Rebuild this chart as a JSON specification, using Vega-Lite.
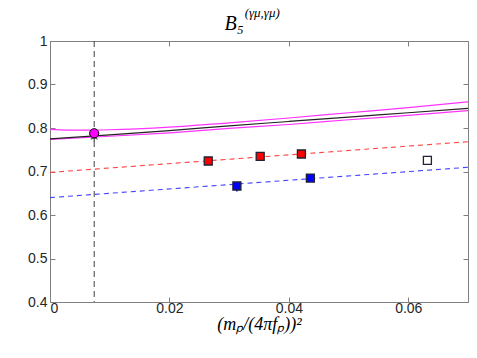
{
  "$schema": "https://vega.github.io/schema/vega-lite/v6.json",
  "width": 418,
  "height": 261,
  "autosize": "none",
  "padding": {"left": 50, "top": 41, "right": 9, "bottom": 56},
  "background": "white",
  "config": {
    "view": {"stroke": "#808080", "strokeWidth": 1},
    "axis": {"domain": false, "grid": false, "tickColor": "#808080", "tickSize": -5, "labelFont": "Liberation Sans", "labelFontSize": 14, "labelColor": "#262626", "titleFont": "Liberation Serif", "titleFontStyle": "italic", "titleFontWeight": "normal", "titleFontSize": 18, "titleColor": "#000000"}
  },
  "title": {
    "text": "\u200b\u2002(\u03b3\u03bc,\u03b3\u03bc)",
    "subtitle": "B\u2085\u2003\u2003\u2002\u200b",
    "font": "Liberation Serif",
    "fontStyle": "italic",
    "fontWeight": "normal",
    "fontSize": 13,
    "color": "#000000",
    "subtitleFont": "Liberation Serif",
    "subtitleFontStyle": "italic",
    "subtitleFontSize": 20,
    "subtitleColor": "#000000",
    "subtitlePadding": -6,
    "anchor": "middle",
    "offset": 0
  },
  "datasets": {
    "curves": [
      {"s": "upper", "x": 0, "y": 0.797},
      {"s": "upper", "x": 0.005, "y": 0.795},
      {"s": "upper", "x": 0.01, "y": 0.796},
      {"s": "upper", "x": 0.02, "y": 0.802},
      {"s": "upper", "x": 0.03, "y": 0.812},
      {"s": "upper", "x": 0.04, "y": 0.823},
      {"s": "upper", "x": 0.05, "y": 0.835},
      {"s": "upper", "x": 0.06, "y": 0.847},
      {"s": "upper", "x": 0.07, "y": 0.86},
      {"s": "lower", "x": 0, "y": 0.774},
      {"s": "lower", "x": 0.01, "y": 0.781},
      {"s": "lower", "x": 0.02, "y": 0.789},
      {"s": "lower", "x": 0.03, "y": 0.799},
      {"s": "lower", "x": 0.04, "y": 0.808},
      {"s": "lower", "x": 0.05, "y": 0.819},
      {"s": "lower", "x": 0.06, "y": 0.829},
      {"s": "lower", "x": 0.07, "y": 0.84},
      {"s": "black", "x": 0, "y": 0.775},
      {"s": "black", "x": 0.01, "y": 0.784},
      {"s": "black", "x": 0.02, "y": 0.794},
      {"s": "black", "x": 0.03, "y": 0.805},
      {"s": "black", "x": 0.04, "y": 0.815},
      {"s": "black", "x": 0.05, "y": 0.825},
      {"s": "black", "x": 0.06, "y": 0.835},
      {"s": "black", "x": 0.07, "y": 0.845},
      {"s": "red", "x": 0, "y": 0.698},
      {"s": "red", "x": 0.07, "y": 0.7685},
      {"s": "blue", "x": 0, "y": 0.64},
      {"s": "blue", "x": 0.07, "y": 0.7097}
    ],
    "pts": [
      {"s": "red", "x": 0.0265, "y": 0.7241, "lo": 0.7221, "hi": 0.7261},
      {"s": "red", "x": 0.0352, "y": 0.7349, "lo": 0.7329, "hi": 0.7369},
      {"s": "red", "x": 0.0421, "y": 0.7402, "lo": 0.7382, "hi": 0.7422},
      {"s": "blue", "x": 0.0313, "y": 0.6667, "lo": 0.654, "hi": 0.676},
      {"s": "blue", "x": 0.0436, "y": 0.685, "lo": 0.682, "hi": 0.688},
      {"s": "open", "x": 0.0632, "y": 0.7257, "lo": 0.7257, "hi": 0.7257},
      {"s": "phys", "x": 0.0074, "y": 0.7878, "lo": 0.7848, "hi": 0.7908},
      {"s": "star", "x": 0.0074, "y": 0.7785, "lo": 0.7785, "hi": 0.7785}
    ],
    "vline": [{"x": 0.0074}]
  },
  "layer": [
    {
      "encoding": {
        "x": {"type": "quantitative", "scale": {"domain": [0, 0.07], "nice": false, "zero": false}},
        "y": {"type": "quantitative", "scale": {"domain": [0.4, 1], "nice": false, "zero": false}}
      },
      "layer": [
        {
          "data": {"name": "vline"},
          "mark": {"type": "rule", "color": "#404040", "strokeDash": [6, 4], "strokeWidth": 1},
          "encoding": {"x": {"field": "x", "type": "quantitative", "axis": {"orient": "bottom", "values": [0, 0.02, 0.04, 0.06], "format": "~g", "labelPadding": 4, "title": "(m\u209a/(4\u03c0f\u209a))\u00b2", "titlePadding": 0}}}
        },
        {
          "data": {"name": "curves"},
          "transform": [{"filter": "datum.s === 'upper' || datum.s === 'lower'"}],
          "mark": {"type": "line", "color": "#ff33ff", "strokeWidth": 1.2, "interpolate": "monotone"},
          "encoding": {"x": {"field": "x", "type": "quantitative"}, "y": {"field": "y", "type": "quantitative", "axis": {"orient": "left", "values": [0.4, 0.5, 0.6, 0.7, 0.8, 0.9, 1], "format": "~g", "labelPadding": 8, "title": null}}, "detail": {"field": "s"}}
        },
        {
          "data": {"name": "curves"},
          "transform": [{"filter": "datum.s === 'black'"}],
          "mark": {"type": "line", "color": "#222222", "strokeWidth": 1.2, "interpolate": "monotone"},
          "encoding": {"x": {"field": "x", "type": "quantitative"}, "y": {"field": "y", "type": "quantitative"}}
        },
        {
          "data": {"name": "curves"},
          "transform": [{"filter": "datum.s === 'red'"}],
          "mark": {"type": "line", "color": "#ff4444", "strokeWidth": 1.1, "strokeDash": [5, 4]},
          "encoding": {"x": {"field": "x", "type": "quantitative"}, "y": {"field": "y", "type": "quantitative"}}
        },
        {
          "data": {"name": "curves"},
          "transform": [{"filter": "datum.s === 'blue'"}],
          "mark": {"type": "line", "color": "#4444ff", "strokeWidth": 1.1, "strokeDash": [5, 4]},
          "encoding": {"x": {"field": "x", "type": "quantitative"}, "y": {"field": "y", "type": "quantitative"}}
        },
        {
          "data": {"name": "pts"},
          "transform": [{"filter": "datum.s === 'blue' || datum.s === 'red' || datum.s === 'phys'"}],
          "mark": {"type": "rule", "strokeWidth": 1.5},
          "encoding": {"x": {"field": "x", "type": "quantitative"}, "y": {"field": "lo", "type": "quantitative"}, "y2": {"field": "hi"}, "color": {"field": "s", "type": "nominal", "scale": {"domain": ["red", "blue", "phys"], "range": ["#ff0000", "#0000ff", "#ff00ff"]}, "legend": null}}
        },
        {
          "data": {"name": "pts"},
          "transform": [{"filter": "datum.s === 'star'"}],
          "mark": {"type": "point", "shape": "M0,-1L0,1M-0.87,-0.5L0.87,0.5M-0.87,0.5L0.87,-0.5", "filled": false, "stroke": "#000000", "strokeWidth": 1.2, "size": 60},
          "encoding": {"x": {"field": "x", "type": "quantitative"}, "y": {"field": "y", "type": "quantitative"}}
        },
        {
          "data": {"name": "pts"},
          "transform": [{"filter": "datum.s === 'phys'"}],
          "mark": {"type": "point", "shape": "circle", "filled": true, "fill": "#ff00ff", "stroke": "#000000", "strokeWidth": 1, "size": 85, "opacity": 1},
          "encoding": {"x": {"field": "x", "type": "quantitative"}, "y": {"field": "y", "type": "quantitative"}}
        },
        {
          "data": {"name": "pts"},
          "transform": [{"filter": "datum.s === 'red' || datum.s === 'blue' || datum.s === 'open'"}],
          "mark": {"type": "point", "shape": "square", "filled": true, "stroke": "#222233", "strokeWidth": 1.3, "size": 64, "opacity": 1},
          "encoding": {"x": {"field": "x", "type": "quantitative"}, "y": {"field": "y", "type": "quantitative"}, "fill": {"field": "s", "type": "nominal", "scale": {"domain": ["red", "blue", "open"], "range": ["#ff0000", "#0000ff", "#ffffff"]}, "legend": null}}
        }
      ]
    },
    {
      "data": {"values": [{"x": 0, "y": 0.4}]},
      "mark": {"type": "point", "opacity": 0},
      "encoding": {
        "x": {"field": "x", "type": "quantitative", "scale": {"domain": [0, 0.07], "nice": false, "zero": false}, "axis": {"orient": "top", "values": [0, 0.02, 0.04, 0.06], "labels": false, "title": null}},
        "y": {"field": "y", "type": "quantitative", "scale": {"domain": [0.4, 1], "nice": false, "zero": false}, "axis": {"orient": "right", "values": [0.4, 0.5, 0.6, 0.7, 0.8, 0.9, 1], "labels": false, "title": null}}
      }
    }
  ],
  "resolve": {"axis": {"x": "independent", "y": "independent"}}
}
